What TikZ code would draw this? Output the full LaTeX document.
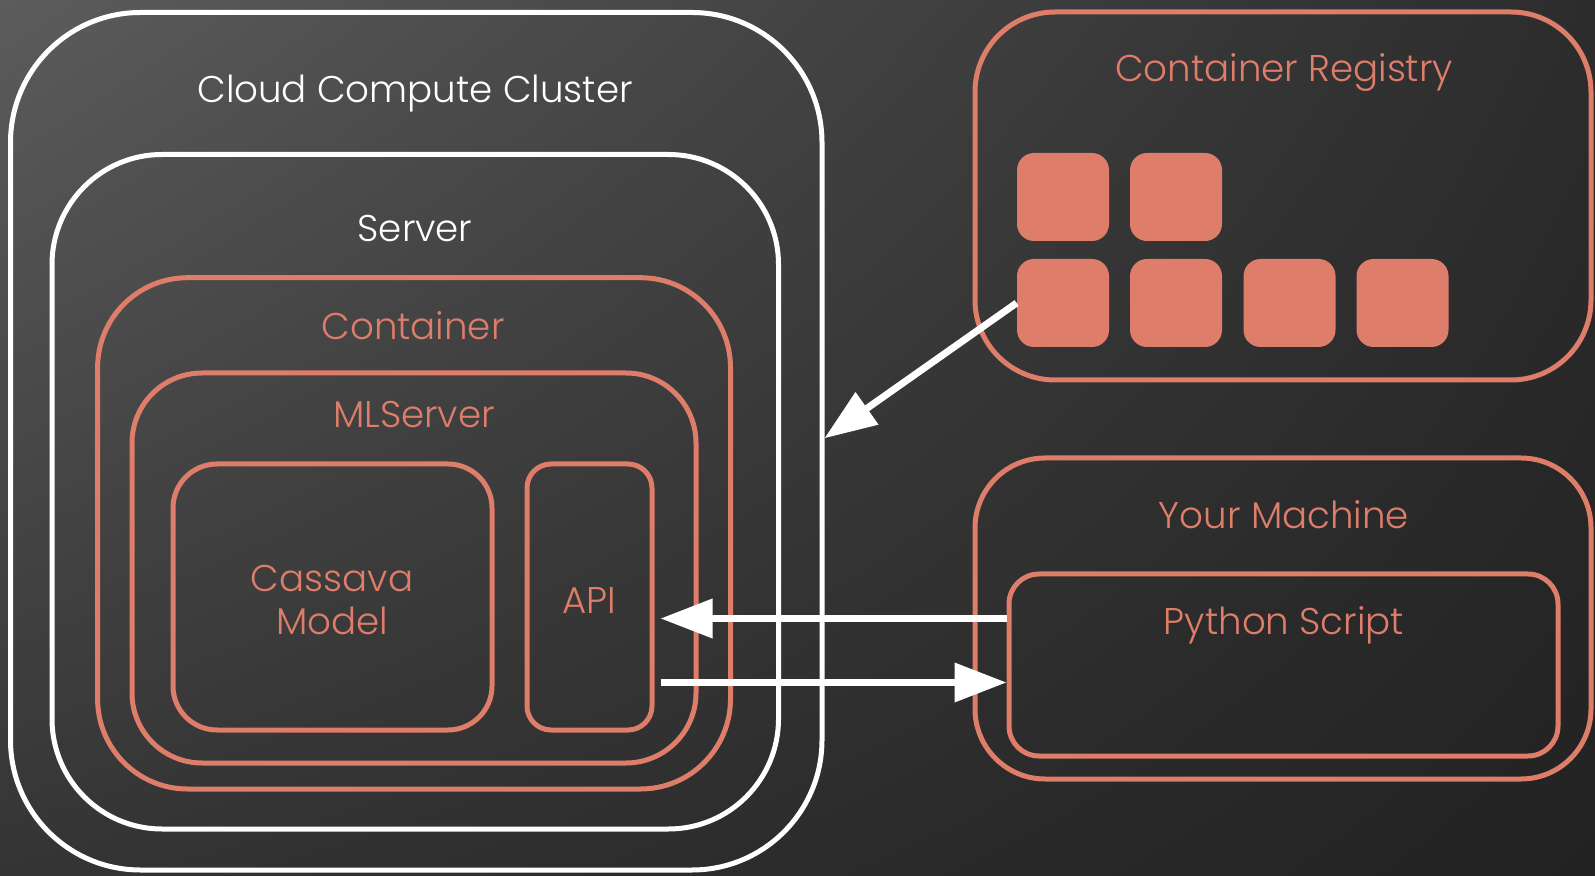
\documentclass[tikz,border=0pt]{standalone}
\usepackage{fontspec}
\setmainfont{Poppins}[UprightFont=* Light]
\usetikzlibrary{fit,arrows.meta,calc,shadings}
\definecolor{salmon}{HTML}{DE7D6A}
\definecolor{bgUL}{RGB}{92,92,92}
\definecolor{bgUR}{RGB}{44,44,44}
\definecolor{bgLL}{RGB}{52,52,52}
\definecolor{bgLR}{RGB}{34,34,34}
\begin{document}
\begin{tikzpicture}[x=0.5pt,y=-0.5pt,
  wbox/.style={draw=white,line width=2.5pt,inner sep=0pt},
  sbox/.style={draw=salmon,line width=2.5pt,inner sep=0pt},
  wlab/.style={text=white,font=\fontsize{18.6}{21.5}\selectfont},
  slab/.style={text=salmon,font=\fontsize{18.6}{21.5}\selectfont,align=center},
  sq/.style={fill=salmon,minimum width=46pt,minimum height=44pt,rounded corners=8.5pt,inner sep=0pt},
  arr/.style={draw=white,line width=3.5pt,-{Triangle[length=26pt,width=19pt]}}]
\useasboundingbox (0,0) rectangle (1595,876);
\shade[upper left=bgUL,upper right=bgUR,lower left=bgLL,lower right=bgLR]
  (0,0) rectangle (1595,876);
% left stack
\node[wbox,rounded corners=65pt,fit={(10.5,12.5) (822,870)}] (cluster) {};
\node[wbox,rounded corners=55pt,fit={(52,154.5) (778.5,829)}] (server) {};
\node[sbox,rounded corners=45pt,fit={(97.6,277.7) (730.5,789)}] (container) {};
\node[sbox,rounded corners=35pt,fit={(132,373) (696,763)}] (mlserver) {};
\node[sbox,rounded corners=22pt,fit={(173,464) (492,730)}] (cassava) {};
\node[sbox,rounded corners=12pt,fit={(527,464) (652,730)}] (api) {};
\node[wlab] (tcluster) at (415,94) {Cloud Compute Cluster};
\node[wlab] (tserver) at (415,229) {Server};
\node[slab] (tcontainer) at (413,326) {Container};
\node[slab] (tml) at (414,415) {MLServer};
\node[slab] (tcassava) at (332,600) {Cassava\\Model};
\node[slab] (tapi) at (589,600) {API};
% registry
\node[sbox,rounded corners=40pt,fit={(975,12) (1591,380)}] (registry) {};
\node[slab] (treg) at (1284,73) {Container Registry};
\node[sq] (s1) at (1063,197) {};
\node[sq] (s2) at (1176,197) {};
\node[sq] (s3) at (1063,303) {};
\node[sq] (s4) at (1176,303) {};
\node[sq] (s5) at (1289.5,303) {};
\node[sq] (s6) at (1402.5,303) {};
% your machine
\node[sbox,rounded corners=35pt,fit={(975,458) (1591,779)}] (machine) {};
\node[slab] (tmachine) at (1284,515) {Your Machine};
\node[sbox,rounded corners=15pt,fit={(1009,574) (1558,756)}] (python) {};
\node[slab] (tpython) at (1284,625) {Python Script};
% arrows
\draw[arr] (s3.west) -- ([yshift=1.5pt]cluster.east);
\path ([yshift=23.25pt]python.west) coordinate (pyIn)
      ([yshift=-8.75pt]python.west) coordinate (pyOut)
      ([xshift=3pt]api.east) coordinate (apiR);
\draw[arr] (pyIn) -- (pyIn -| apiR);
\draw[arr] (pyOut -| apiR) -- (pyOut);
\end{tikzpicture}
\end{document}
